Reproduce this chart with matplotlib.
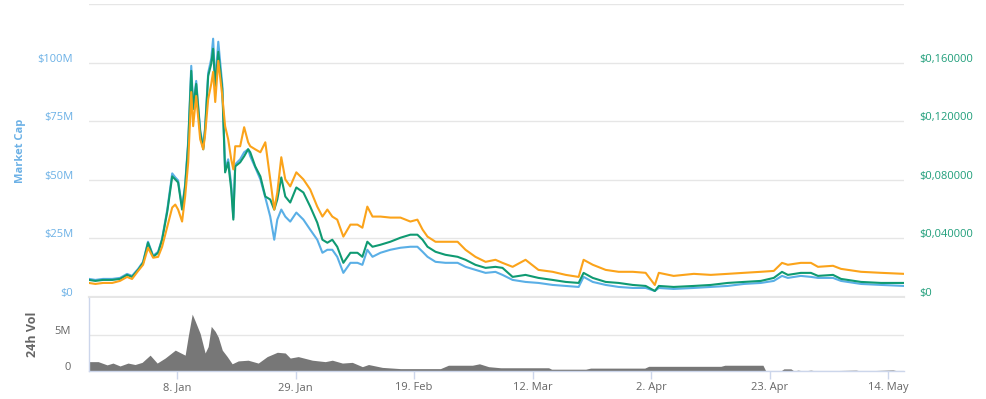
import matplotlib
matplotlib.use("Agg")
import matplotlib.pyplot as plt
import matplotlib.dates as mdates
import matplotlib.ticker as mticker
from matplotlib.transforms import ScaledTranslation
import pandas as pd

# ---------------- data ----------------
price_dates = [
    "2017-12-23 09:00", "2017-12-24 12:00", "2017-12-25 21:00", "2017-12-27 12:00", "2017-12-28 21:00",
    "2017-12-30 03:00", "2017-12-31 00:00", "2018-01-01 02:00", "2018-01-01 23:00", "2018-01-02 20:00",
    "2018-01-03 18:00", "2018-01-04 15:00", "2018-01-05 08:00", "2018-01-06 06:00", "2018-01-07 03:00",
    "2018-01-07 16:00", "2018-01-08 04:00", "2018-01-08 21:00", "2018-01-09 10:00", "2018-01-09 23:00",
    "2018-01-10 12:00", "2018-01-10 20:00", "2018-01-11 09:00", "2018-01-12 02:00", "2018-01-12 15:00",
    "2018-01-12 23:00", "2018-01-13 12:00", "2018-01-14 01:00", "2018-01-14 09:00", "2018-01-14 18:00",
    "2018-01-15 07:00", "2018-01-16 00:00", "2018-01-16 12:00", "2018-01-17 01:00", "2018-01-17 14:00",
    "2018-01-17 23:00", "2018-01-18 07:00", "2018-01-19 04:00", "2018-01-19 21:00", "2018-01-20 14:00",
    "2018-01-20 23:00", "2018-01-21 20:00", "2018-01-22 18:00", "2018-01-23 15:00", "2018-01-24 12:00",
    "2018-01-25 05:00", "2018-01-25 18:00", "2018-01-26 11:00", "2018-01-27 04:00", "2018-01-28 01:00",
    "2018-01-29 03:00", "2018-01-30 09:00", "2018-01-31 14:00", "2018-02-01 20:00", "2018-02-02 18:00",
    "2018-02-03 15:00", "2018-02-04 12:00", "2018-02-05 09:00", "2018-02-06 11:00", "2018-02-07 17:00",
    "2018-02-08 23:00", "2018-02-09 20:00", "2018-02-10 17:00", "2018-02-11 15:00", "2018-02-13 01:00",
    "2018-02-14 19:00", "2018-02-16 14:00", "2018-02-18 08:00", "2018-02-19 14:00", "2018-02-20 12:00",
    "2018-02-21 09:00", "2018-02-22 19:00", "2018-02-24 13:00", "2018-02-26 17:00", "2018-02-28 03:00",
    "2018-03-01 21:00", "2018-03-03 16:00", "2018-03-05 10:00", "2018-03-06 16:00", "2018-03-08 11:00",
    "2018-03-10 18:00", "2018-03-13 01:00", "2018-03-15 13:00", "2018-03-17 21:00", "2018-03-20 04:00",
    "2018-03-21 01:00", "2018-03-22 16:00", "2018-03-24 23:00", "2018-03-27 06:00", "2018-03-29 18:00",
    "2018-04-01 01:00", "2018-04-02 16:00", "2018-04-03 09:00", "2018-04-06 00:00", "2018-04-09 14:00",
    "2018-04-12 14:00", "2018-04-15 14:00", "2018-04-18 11:00", "2018-04-21 11:00", "2018-04-23 18:00",
    "2018-04-25 05:00", "2018-04-26 06:00", "2018-04-28 13:00", "2018-04-30 08:00", "2018-05-01 14:00",
    "2018-05-04 06:00", "2018-05-05 16:00", "2018-05-09 05:00", "2018-05-12 18:00", "2018-05-16 20:00",
]

market_cap_musd = [
    7.72, 7.29, 7.72, 7.72, 8.15, 9.86, 9.01, 12.01, 15.01, 23.58,
    17.58, 19.30, 24.87, 37.31, 52.74, 51.03, 49.74, 38.16, 48.03, 66.46,
    98.62, 81.47, 92.19, 71.18, 63.89, 72.47, 95.62, 101.6, 110.2, 91.76,
    108.9, 90.48, 54.46, 58.75, 48.03, 33.88, 56.60, 58.75, 61.75, 63.03,
    60.03, 55.32, 50.17, 42.45, 34.30, 24.44, 33.02, 37.31, 34.30, 32.16,
    36.02, 33.02, 28.73, 24.44, 18.87, 20.15, 20.15, 17.15, 10.29, 14.58,
    14.58, 13.72, 20.15, 17.15, 18.87, 20.15, 21.01, 21.44, 21.44, 19.30,
    17.15, 15.01, 14.58, 14.58, 12.86, 11.58, 10.29, 10.72, 9.43, 7.29,
    6.43, 6.00, 5.15, 4.72, 4.29, 8.58, 6.43, 5.15, 4.29, 3.86,
    3.86, 2.57, 3.86, 3.43, 3.86, 4.29, 4.72, 5.57, 6.00, 6.86,
    9.00, 8.15, 9.00, 8.58, 8.15, 8.15, 6.86, 5.57, 5.15, 4.72,
]

price_usd = [
    0.01166, 0.01098, 0.01166, 0.01166, 0.01235, 0.01509, 0.01372, 0.01852, 0.02332, 0.03704,
    0.02744, 0.03018, 0.03910, 0.05831, 0.08232, 0.08026, 0.07820, 0.05968, 0.07546, 0.10427,
    0.15435, 0.12828, 0.14543, 0.11250, 0.10084, 0.11456, 0.15092, 0.15915, 0.16944, 0.14406,
    0.16738, 0.14200, 0.08506, 0.09192, 0.07340, 0.05282, 0.08918, 0.09192, 0.09604, 0.10084,
    0.09878, 0.08918, 0.08232, 0.06860, 0.06654, 0.05968, 0.06654, 0.08163, 0.06860, 0.06448,
    0.07477, 0.07134, 0.06174, 0.05076, 0.03910, 0.03704, 0.03910, 0.03430, 0.02332, 0.03018,
    0.03018, 0.02744, 0.03773, 0.03430, 0.03567, 0.03773, 0.04047, 0.04253, 0.04253, 0.03910,
    0.03430, 0.03087, 0.02881, 0.02744, 0.02538, 0.02195, 0.01989, 0.02058, 0.01989, 0.01372,
    0.01509, 0.01303, 0.01166, 0.01029, 0.00960, 0.01646, 0.01303, 0.01029, 0.00960, 0.00823,
    0.00755, 0.00412, 0.00755, 0.00686, 0.00755, 0.00823, 0.00960, 0.01029, 0.01098, 0.01303,
    0.01715, 0.01509, 0.01646, 0.01646, 0.01441, 0.01509, 0.01235, 0.01029, 0.00960, 0.00960,
]

price_btc_sat = [
    96, 89, 96, 96, 110, 137, 123, 178, 220, 336,
    268, 274, 343, 480, 611, 631, 597, 515, 686, 919,
    1399, 1166, 1372, 1077, 1008, 1111, 1351, 1454, 1537, 1331,
    1612, 1372, 1166, 1077, 940, 871, 1029, 1029, 1159, 1056,
    1029, 1008, 988, 1056, 803, 597, 713, 954, 803, 755,
    851, 803, 734, 617, 549, 597, 549, 528, 412, 494,
    494, 473, 617, 549, 549, 542, 542, 515, 528, 460,
    412, 377, 377, 377, 322, 274, 240, 254, 233, 206,
    254, 185, 172, 151, 137, 254, 220, 185, 172, 172,
    165, 82, 165, 144, 158, 151, 158, 165, 172, 178,
    233, 220, 233, 233, 206, 213, 192, 172, 165, 158,
]

volume_dates = [
    "2017-12-23 09:00", "2017-12-25 00:00", "2017-12-26 14:00", "2017-12-27 15:00", "2017-12-28 21:00",
    "2017-12-30 07:00", "2017-12-31 13:00", "2018-01-01 19:00", "2018-01-03 05:00", "2018-01-04 11:00",
    "2018-01-05 21:00", "2018-01-07 16:00", "2018-01-09 10:00", "2018-01-09 23:00", "2018-01-10 16:00",
    "2018-01-11 05:00", "2018-01-12 02:00", "2018-01-12 23:00", "2018-01-13 12:00", "2018-01-14 01:00",
    "2018-01-14 18:00", "2018-01-15 07:00", "2018-01-16 00:00", "2018-01-16 21:00", "2018-01-17 18:00",
    "2018-01-18 20:00", "2018-01-20 14:00", "2018-01-22 09:00", "2018-01-23 23:00", "2018-01-25 18:00",
    "2018-01-27 04:00", "2018-01-28 01:00", "2018-01-29 11:00", "2018-01-31 23:00", "2018-02-03 06:00",
    "2018-02-04 12:00", "2018-02-06 07:00", "2018-02-08 01:00", "2018-02-09 20:00", "2018-02-10 22:00",
    "2018-02-13 09:00", "2018-02-16 14:00", "2018-02-23 16:00", "2018-02-25 02:00", "2018-03-01 08:00",
    "2018-03-02 14:00", "2018-03-04 05:00", "2018-03-06 08:00", "2018-03-14 20:00", "2018-03-15 09:00",
    "2018-03-21 10:00", "2018-03-22 07:00", "2018-03-31 21:00", "2018-04-01 14:00", "2018-04-14 09:00",
    "2018-04-15 02:00", "2018-04-21 20:00", "2018-04-22 08:00", "2018-04-25 00:00", "2018-04-25 13:00",
    "2018-04-26 19:00", "2018-04-27 08:00", "2018-04-28 01:00", "2018-04-29 02:00", "2018-04-30 08:00",
    "2018-05-01 05:00", "2018-05-08 08:00", "2018-05-09 05:00", "2018-05-14 21:00", "2018-05-15 18:00",
    "2018-05-16 20:00",
]

volume_musd = [
    1.3, 1.3, 0.85, 1.1, 0.7,
    1.1, 0.9, 1.2, 2.2, 1.1,
    1.8, 2.9, 2.2, 4.8, 7.9,
    6.9, 5.2, 2.5, 3.4, 6.2,
    5.5, 4.7, 2.9, 2.0, 1.0,
    1.4, 1.5, 1.1, 2.0, 2.6,
    2.5, 1.8, 2.0, 1.5, 1.3,
    1.5, 1.1, 1.2, 0.6, 0.9,
    0.5, 0.33, 0.33, 0.8, 0.8,
    1.0, 0.6, 0.45, 0.45, 0.25,
    0.25, 0.4, 0.4, 0.65, 0.65,
    0.8, 0.8, 0.0, 0.0, 0.3,
    0.3, 0.0, 0.12, 0.0, 0.12,
    0.0, 0.12, 0.0, 0.15, 0.0,
    0.0,
]

tick_dates = ["2018-01-08", "2018-01-29", "2018-02-19", "2018-03-12",
              "2018-04-02", "2018-04-23", "2018-05-14"]
mcap_ticks_musd = [0, 25, 50, 75, 100, 125]
mcap_tick_labels = ["$0", "$25M", "$50M", "$75M", "$100M", ""]
price_ticks = [0, 0.04, 0.08, 0.12, 0.16, 0.20]
vol_ticks_musd = [0, 5]
vol_tick_labels = ["0", "5M"]

# ---------------- style ----------------
plt.rcParams["font.family"] = ["Open Sans", "DejaVu Sans"]
C_BLUE = "#5aafe6"
C_BLUE_TXT = "#6cb1e6"
C_GREEN = "#0f9a72"
C_GREEN_TXT = "#1f9e7a"
C_ORANGE = "#fba31a"
C_GRID = "#e6e6e6"
C_AXIS = "#ccd6eb"
C_TXT = "#666666"
C_VOL = "#777777"

pdates = pd.to_datetime(price_dates)
vdates = pd.to_datetime(volume_dates)
tdates = pd.to_datetime(tick_dates)

fig = plt.figure(figsize=(9.86, 3.99), dpi=100)
L, R = 89 / 986, 904 / 986
ax = fig.add_axes([L, 102 / 399, R - L, 293 / 399])
axv = fig.add_axes([L, 28 / 399, R - L, 73 / 399], sharex=ax)

LW = 1.5
# main chart
ax.plot(pdates, [v * 1e6 for v in market_cap_musd], color=C_BLUE, lw=LW, zorder=2)
ax.set_ylim(0, 125e6)
ax2 = ax.twinx()
ax2.plot(pdates, price_usd, color=C_GREEN, lw=LW, zorder=3)
ax2.set_ylim(0, 0.2)
ax3 = ax.twinx()
ax3.plot(pdates, price_btc_sat, color=C_ORANGE, lw=LW, zorder=4)
ax3.set_ylim(0, 2000)
ax3.axis("off")

ax.set_xlim(pdates.min(), pdates.max())

for a in (ax, ax2):
    for s in a.spines.values():
        s.set_visible(False)
ax.spines["bottom"].set_visible(True)
ax.spines["bottom"].set_color(C_GRID)
ax.spines["bottom"].set_linewidth(1.6)

ax.set_yticks([v * 1e6 for v in mcap_ticks_musd])
ax.yaxis.set_major_formatter(mticker.FixedFormatter(mcap_tick_labels))
ax.grid(axis="y", color=C_GRID, lw=1.0)
ax.set_axisbelow(True)
ax.tick_params(axis="y", length=0, pad=11.5, labelsize=8, labelcolor=C_BLUE_TXT)
ax.tick_params(axis="x", which="both", length=0, labelbottom=False)

ax2.set_yticks(price_ticks[:-1])
ax2.yaxis.set_major_formatter(mticker.FuncFormatter(
    lambda v, p: "$0" if v == 0 else "$" + f"{v:.6f}".replace(".", ",")))
ax2.tick_params(axis="y", length=0, pad=11, labelsize=8, labelcolor=C_GREEN_TXT)

# volume chart
axv.fill_between(vdates, [v * 1e6 for v in volume_musd], 0, color=C_VOL, lw=0)
axv.set_ylim(0, 10.14e6)
axv.set_yticks([v * 1e6 for v in vol_ticks_musd])
axv.yaxis.set_major_formatter(mticker.FixedFormatter(vol_tick_labels))
axv.grid(axis="y", color=C_GRID, lw=1.0)
axv.set_axisbelow(True)
axv.tick_params(axis="y", length=0, pad=13, labelsize=8, labelcolor=C_TXT)
for s in ("top", "right"):
    axv.spines[s].set_visible(False)
for s in ("left", "bottom"):
    axv.spines[s].set_color(C_AXIS)
    axv.spines[s].set_linewidth(1.0)
axv.set_xticks(tdates)
axv.xaxis.set_major_formatter(mticker.FuncFormatter(
    lambda v, p: f"{mdates.num2date(v).day}. {mdates.num2date(v).strftime('%b')}"))
axv.tick_params(axis="x", length=6, width=1, color=C_AXIS, pad=2, labelsize=8, labelcolor=C_TXT)
axv.set_xlim(pdates.min(), pdates.max())

# shift y tick labels up a bit (Highcharts style)
off = ScaledTranslation(0, 5 / 100, fig.dpi_scale_trans)
for a in (ax, ax2, axv):
    for lbl in a.get_yticklabels():
        lbl.set_transform(lbl.get_transform() + off)

fig.text(21 / 986, 1 - 151 / 399, "Market Cap", rotation=90, ha="center", va="center",
         color=C_BLUE_TXT, fontsize=8, fontweight="bold")
fig.text(33 / 986, 1 - 334 / 399, "24h Vol", rotation=90, ha="center", va="center",
         color=C_TXT, fontsize=9, fontweight="bold")

fig.savefig("out.png", dpi=100, facecolor="white")
